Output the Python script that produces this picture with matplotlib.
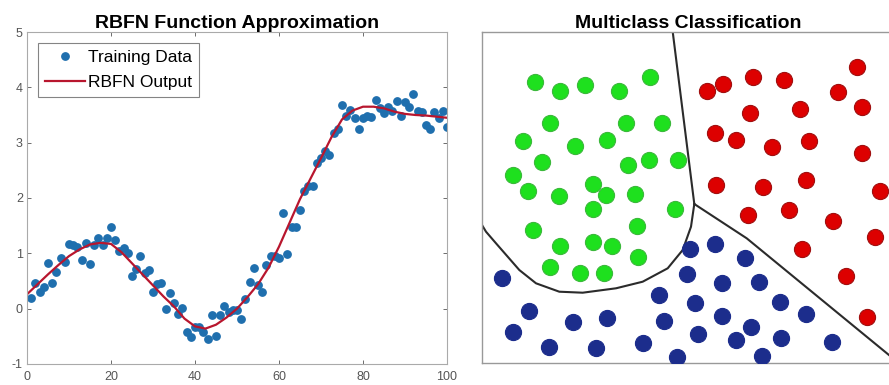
import numpy as np
import matplotlib
matplotlib.use('Agg')
import matplotlib.pyplot as plt

plt.rcParams.update({
    'font.family': ['Liberation Sans', 'DejaVu Sans'],
    'xtick.direction': 'in',
    'ytick.direction': 'in',
    'axes.unicode_minus': False,
})

# ---- left panel: noisy training samples and RBFN fit ----
x_train = np.arange(1, 101)
y_train = [0.20, 0.47, 0.30, 0.39, 0.82, 0.47, 0.66, 0.92, 0.84, 1.16,
           1.15, 1.12, 0.88, 1.18, 0.80, 1.15, 1.27, 1.15, 1.27, 1.48,
           1.24, 1.04, 1.09, 1.01, 0.59, 0.71, 0.96, 0.64, 0.69, 0.30,
           0.45, 0.47, 0.00, 0.28, 0.11, -0.10, 0.02, -0.42, -0.51, -0.34,
           -0.34, -0.42, -0.54, -0.12, -0.49, -0.12, 0.05, -0.06, -0.03, -0.02,
           -0.18, 0.18, 0.48, 0.74, 0.42, 0.30, 0.79, 0.95, 0.95, 0.92,
           1.72, 0.98, 1.48, 1.48, 1.78, 2.13, 2.22, 2.21, 2.64, 2.73,
           2.85, 2.78, 3.18, 3.24, 3.68, 3.48, 3.59, 3.44, 3.24, 3.44,
           3.48, 3.47, 3.77, 3.62, 3.53, 3.65, 3.57, 3.76, 3.48, 3.73,
           3.65, 3.88, 3.57, 3.56, 3.32, 3.24, 3.56, 3.44, 3.57, 3.29]

x_fit = np.arange(0, 100.1, 2.5)
y_fit = [0.26, 0.44, 0.62, 0.79, 0.95, 1.07, 1.16, 1.19, 1.17, 1.02,
         0.82, 0.62, 0.42, 0.22, 0.04, -0.18, -0.32, -0.36, -0.29, -0.16,
         0.00, 0.21, 0.44, 0.74, 1.12, 1.55, 1.98, 2.35, 2.72, 3.10,
         3.42, 3.58, 3.65, 3.65, 3.62, 3.56, 3.52, 3.50, 3.49, 3.47, 3.45]

# ---- right panel: three classes and decision boundaries ----
green_x = [53, 78, 103, 137, 168, 68, 144, 180, 41, 93, 125, 60, 146, 167, 196, 31,
           111, 46, 77, 124, 153, 111, 193, 51, 155, 78, 111, 130, 156, 68, 98, 122]
green_y = [281, 272, 278, 272, 286, 240, 240, 240, 222, 217, 223, 201, 198, 203, 203, 188,
           179, 172, 167, 168, 169, 154, 154, 133, 137, 117, 121, 117, 106, 96, 90, 90]
red_x = [225, 241, 271, 302, 375, 356, 268, 318, 380, 233, 254, 290, 327, 380, 234, 281,
         324, 398, 266, 307, 351, 393, 320, 364, 385]
red_y = [272, 279, 286, 283, 296, 271, 250, 254, 256, 230, 223, 216, 222, 210, 178, 176,
         183, 172, 148, 153, 142, 126, 114, 87, 46]
blue_x = [208, 233, 263, 20, 205, 240, 277, 177, 213, 298, 47, 324, 91, 125, 182, 240,
          269, 31, 216, 254, 299, 350, 67, 114, 161, 195, 280]
blue_y = [114, 119, 105, 85, 89, 80, 81, 68, 60, 61, 52, 49, 41, 45, 42, 47,
          36, 31, 29, 23, 25, 21, 16, 15, 20, 6, 7]

# boundary green | red
b1_x = [190.7, 212.3]
b1_y = [331.3, 159.0]
# boundary red | blue
b2_x = [212.3, 264.7, 415.0]
b2_y = [159.0, 124.7, 1.4]
# boundary green | blue
b3_x = [-2, 4, 14, 25.7, 37.3, 54, 77.3, 100.7, 134, 160.7, 185.7, 200.7, 209, 212.3]
b3_y = [141.3, 131.3, 119.7, 106.3, 93, 79.7, 71.3, 70.3, 74.7, 81.3, 94.7, 113, 136.3, 159.0]

fig = plt.figure(figsize=(8.89, 3.85), dpi=100)

ax1 = fig.add_axes([27 / 889, 21 / 385, 420 / 889, 332 / 385])
ax1.plot(x_train, y_train, 'o', color='#1f6fae', markersize=5.3, label='Training Data')
ax1.plot(x_fit, y_fit, '-', color='#b8162e', linewidth=1.6, label='RBFN Output')
ax1.set_xlim(0, 100)
ax1.set_ylim(-1, 5)
ax1.set_xticks([0, 20, 40, 60, 80, 100])
ax1.set_yticks([-1, 0, 1, 2, 3, 4, 5])
ax1.tick_params(axis='both', labelsize=9, colors='#555555', length=3, width=0.6,
                top=True, right=True)
ax1.tick_params(axis='x', pad=5)
ax1.tick_params(axis='y', pad=3)
for s in ax1.spines.values():
    s.set_color('#aaaaaa')
    s.set_linewidth(0.8)
ax1.set_title('RBFN Function Approximation', fontsize=14, fontweight='bold', pad=3)
leg = ax1.legend(loc='upper left', fontsize=12.5, frameon=True, fancybox=False,
                 borderaxespad=0.65, handlelength=2.3, handletextpad=0.15,
                 borderpad=0.4, labelspacing=0.55)
leg.get_frame().set_edgecolor('#666666')
leg.get_frame().set_linewidth(0.8)

ax2 = fig.add_axes([482 / 889, 22 / 385, 412 / 889, 331 / 385])
ax2.plot(b1_x, b1_y, color='#2b2b2b', linewidth=1.5)
ax2.plot(b2_x, b2_y, color='#2b2b2b', linewidth=1.5)
ax2.plot(b3_x, b3_y, color='#2b2b2b', linewidth=1.5)
ax2.scatter(green_x, green_y, s=135, color='#1ee01e', edgecolors='#3cb83c', linewidths=0.8, zorder=3)
ax2.scatter(red_x, red_y, s=135, color='#dd0000', edgecolors='#a01010', linewidths=0.8, zorder=3)
ax2.scatter(blue_x, blue_y, s=135, color='#1c2d8c', edgecolors='#1c2d8c', linewidths=0.8, zorder=3)
ax2.set_xlim(0, 412)
ax2.set_ylim(0, 331)
ax2.set_xticks([])
ax2.set_yticks([])
for s in ax2.spines.values():
    s.set_color('#999999')
    s.set_linewidth(1.0)
ax2.set_title('Multiclass Classification', fontsize=14, fontweight='bold', pad=3)

plt.savefig('out.png', dpi=100)
